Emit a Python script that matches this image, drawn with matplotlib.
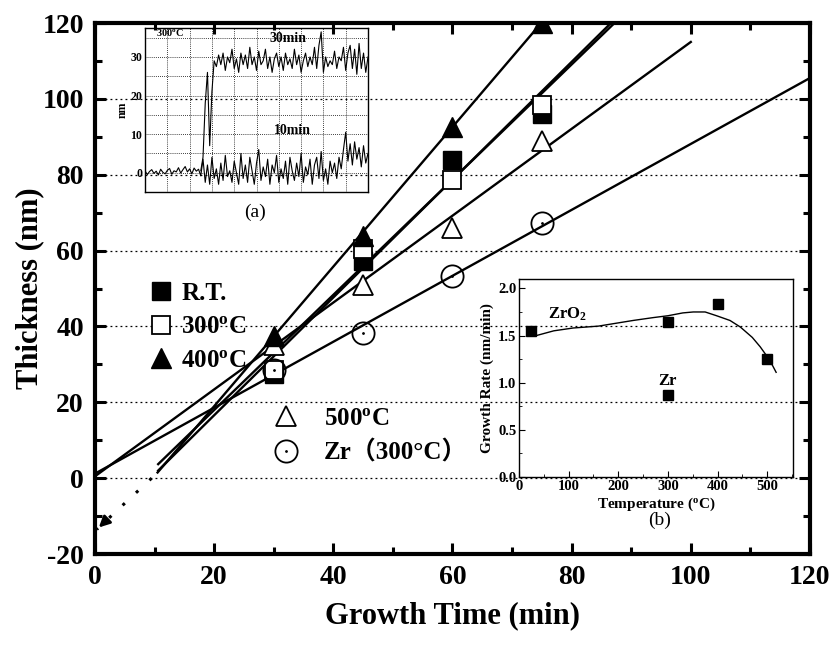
import numpy as np
import matplotlib
matplotlib.use('Agg')
import matplotlib.pyplot as plt
from matplotlib.lines import Line2D
from matplotlib.ticker import MultipleLocator

plt.rcParams['font.family'] = ['Liberation Serif', 'Noto Sans CJK SC']
plt.rcParams['font.weight'] = 'bold'
plt.rcParams['axes.labelweight'] = 'bold'
plt.rcParams['axes.unicode_minus'] = False
plt.rcParams['mathtext.fontset'] = 'custom'
plt.rcParams['mathtext.rm'] = 'Liberation Serif:bold'
plt.rcParams['mathtext.it'] = 'Liberation Serif:bold'
plt.rcParams['mathtext.bf'] = 'Liberation Serif:bold'

# thickness vs growth time (min)
time = [30, 45, 60, 75]
thick_rt = [27.5, 57.2, 84.0, 96.0]
thick_300 = [28.5, 60.3, 78.7, 98.5]
thick_400 = [37.4, 63.8, 92.6, 120.0]
thick_500 = [35.0, 51.0, 66.0, 89.0]
thick_zr = [28.5, 38.3, 53.4, 67.3]

# fitted lines, read as end points
fit_rt_x, fit_rt_y = [10.6, 87.2], [3.7, 120.0]
fit_300_x, fit_300_y = [10.6, 86.6], [2.0, 120.0]
fit_400_x, fit_400_y = [10.5, 74.9], [1.5, 120.0]
fit_500_x, fit_500_y = [0.0, 100.0], [0.5, 115.0]
fit_zr_x, fit_zr_y = [0.0, 120.0], [1.2, 105.5]
extrap_x, extrap_y = [9.5, 0.3], [0.0, -13.5]

# inset (a): thickness monitor traces (nm)
trace_10min = [0.5, -0.5, 0.3, 0.8, -0.2, 0.4, -0.6, 0.9, 0.1, -0.3, 0.6, 1.1, -0.4,
               0.5, 0.2, 1.3, -0.1, 0.8, 1.6, 0.2, 1.0, -0.3, 1.2, 0.4, 0.9, -0.8,
               3.5, -2.5, 2.0, -3.0, 4.0, -1.5, 1.0, -3.0, 2.5, -2.0, 4.5, -1.0, 0.5,
               -2.5, 3.0, 0.0, -3.0, 5.0, -1.5, 2.0, -2.5, 4.0, 0.5, -3.0, 2.5, 6.0,
               -2.0, 1.5, -1.0, 3.5, -3.0, 2.0, 0.0, 4.5, -2.5, 1.0, -1.5, 3.0, -3.0,
               4.0, 0.5, -2.0, 2.5, -1.0, 5.0, -2.5, 1.5, -0.5, 3.5, -3.0, 2.0, 4.0,
               -1.5, 5.5, -2.0, 1.0, -3.0, 3.0, 0.0, 2.5, -1.5, 4.0, 1.0, 6.0, 10.5,
               3.0, 7.5, 2.0, 8.0, 3.5, 6.5, 1.5, 7.0, 2.5, 5.0]
trace_30min = [0.5, 4.0, 18.0, 26.0, 7.0, 21.0, 29.0, 27.5, 30.5, 28.0, 31.0, 26.5,
               30.0, 28.5, 32.0, 27.0, 29.5, 26.0, 31.0, 28.0, 30.5, 27.0, 32.5, 28.0,
               30.0, 26.5, 31.5, 28.0, 29.0, 32.0, 27.0, 30.0, 26.0, 29.5, 31.0, 27.5,
               30.0, 26.5, 31.0, 28.0, 29.5, 27.0, 32.0, 28.0, 30.5, 26.0, 29.0, 31.0,
               27.5, 30.0, 28.0, 32.5, 27.0, 33.0, 36.5, 26.0, 30.0, 27.5, 29.0, 28.0,
               31.5, 27.0, 30.0, 29.0, 32.5, 26.5, 31.0, 33.0, 27.0, 32.0, 25.5, 33.5,
               27.0, 31.0, 26.0, 30.0]

# inset (b): growth rate vs temperature
temp = [25, 300, 400, 500]
rate = [1.55, 1.64, 1.83, 1.25]
zr_temp = [300]
zr_rate = [0.87]
curve_t = [35, 70, 109, 160, 230, 270, 300, 330, 351, 375, 398, 425, 446, 470, 486, 505, 518]
curve_r = [1.50, 1.55, 1.58, 1.60, 1.66, 1.69, 1.71, 1.74, 1.75, 1.75, 1.71, 1.66,
           1.59, 1.48, 1.38, 1.24, 1.11]

fig = plt.figure(figsize=(8.35, 6.48), dpi=100)
ax = fig.add_axes([0.1138, 0.145, 0.8562, 0.8195])

for v in [0, 20, 40, 60, 80, 100]:
    ax.axhline(v, color='k', lw=0.9, linestyle=(0, (1.5, 2.5)), zorder=1)

for fx, fy in [(fit_rt_x, fit_rt_y), (fit_300_x, fit_300_y), (fit_400_x, fit_400_y),
               (fit_500_x, fit_500_y), (fit_zr_x, fit_zr_y)]:
    ax.plot(fx, fy, color='k', lw=1.7, zorder=2)

# extrapolation to the thickness axis
ax.plot(extrap_x, extrap_y, color='k', lw=2.2, linestyle=(0, (1, 5)), zorder=2)
ax.annotate('', xy=(extrap_x[1], extrap_y[1]), xytext=(extrap_x[1] + 1.6, extrap_y[1] + 2.4),
            arrowprops=dict(arrowstyle='-|>', color='k', lw=2, mutation_scale=16))

ms = dict(color='k', linestyle='none', zorder=3)
ax.plot(time, thick_rt, marker='s', markersize=13, mfc='k', **ms)
ax.plot(time, thick_500, marker='^', markersize=15, mfc='white', mew=1.3, **ms)
ax.plot(time, thick_300, marker='s', markersize=13, mfc='white', mew=1.3, **ms)
ax.plot(time, thick_400, marker='^', markersize=15, mfc='k', **ms)
ax.plot(time, thick_zr, marker='o', markersize=16, mfc='none', mew=1.3, **ms)
ax.plot(time, thick_zr, marker='.', markersize=2, **ms)

ax.set_xlim(0, 120)
ax.set_ylim(-20, 120)
ax.xaxis.set_major_locator(MultipleLocator(20))
ax.xaxis.set_minor_locator(MultipleLocator(10))
ax.yaxis.set_major_locator(MultipleLocator(20))
ax.yaxis.set_minor_locator(MultipleLocator(10))
ax.tick_params(which='both', direction='in', top=True, right=True, width=2.2, labelsize=20, pad=8)
ax.tick_params(which='major', length=8)
ax.tick_params(which='minor', length=5)
for s in ax.spines.values():
    s.set_linewidth(3)
ax.set_xlabel('Growth Time (min)', fontsize=22, fontweight='bold', labelpad=8)
ax.set_ylabel('Thickness (nm)', fontsize=22, fontweight='bold', labelpad=-1)

# legends
h1 = [Line2D([], [], marker='s', color='k', mfc='k', ls='none', markersize=13),
      Line2D([], [], marker='s', color='k', mfc='white', mew=1.3, ls='none', markersize=13),
      Line2D([], [], marker='^', color='k', mfc='k', ls='none', markersize=15)]
leg1 = ax.legend(h1, ['R.T.', '300$^{\\mathrm{o}}$C', '400$^{\\mathrm{o}}$C'],
                 loc='upper left', bbox_to_anchor=(0.04, 0.555), frameon=False,
                 fontsize=18, handletextpad=0.2, labelspacing=0.42, handlelength=1.2)
ax.add_artist(leg1)
h2 = [Line2D([], [], marker='^', color='k', mfc='white', mew=1.3, ls='none', markersize=15),
      (Line2D([], [], marker='o', color='k', mfc='none', mew=1.3, ls='none', markersize=16),
       Line2D([], [], marker='.', color='k', ls='none', markersize=2))]
ax.legend(h2, ['500$^{\\mathrm{o}}$C', 'Zr（300°C）'],
          loc='upper left', bbox_to_anchor=(0.215, 0.32), frameon=False,
          fontsize=18, handletextpad=0.9, labelspacing=0.45, handlelength=1.2)

# inset (a)
axa = fig.add_axes([0.1737, 0.7037, 0.267, 0.2531])
axa.patch.set_alpha(0)
xa = np.linspace(0, 10, 101)
axa.plot(xa, trace_10min, color='k', lw=0.8)
axa.plot(xa[25:], trace_30min, color='k', lw=0.8)
axa.set_xlim(0, 10)
axa.set_ylim(-5, 37.5)
axa.set_xticks(np.arange(0, 11, 1))
axa.set_yticks(np.arange(0, 36, 5), minor=True)
axa.set_yticks([0, 10, 20, 30])
axa.tick_params(axis='x', labelbottom=False, length=0)
axa.tick_params(axis='y', which='both', length=0, labelsize=8.5, pad=2)
axa.grid(True, which='both', color='k', lw=0.6, linestyle=(0, (1, 1.5)))
for s in axa.spines.values():
    s.set_linewidth(1)
axa.set_ylabel('nm', fontsize=8.5, labelpad=1)
axa.text(0.5, 35.5, '300$^{\\mathrm{o}}$C', fontsize=7.5)
axa.text(5.6, 34.0, '30min', fontsize=10)
axa.text(5.8, 10.0, '10min', fontsize=10)
fig.text(0.305, 0.672, '(a)', fontsize=14, fontweight='normal', ha='center', va='center')

# inset (b)
axb = fig.add_axes([0.6216, 0.2639, 0.3281, 0.3056])
axb.patch.set_alpha(0)
axb.plot(curve_t, curve_r, color='k', lw=1)
axb.plot(temp, rate, marker='s', color='k', ls='none', markersize=7)
axb.plot(zr_temp, zr_rate, marker='s', color='k', ls='none', markersize=7)
axb.set_xlim(0, 552)
axb.set_ylim(0, 2.1)
axb.xaxis.set_major_locator(MultipleLocator(100))
axb.xaxis.set_minor_locator(MultipleLocator(50))
axb.yaxis.set_major_locator(MultipleLocator(0.5))
axb.yaxis.set_minor_locator(MultipleLocator(0.25))
axb.tick_params(which='both', direction='in', labelsize=10.5, pad=2)
axb.tick_params(which='major', length=4)
axb.tick_params(which='minor', length=2)
for s in axb.spines.values():
    s.set_linewidth(1)
axb.set_xlabel('Temperature ($^{\\mathrm{o}}$C)', fontsize=11, fontweight='bold', labelpad=2)
axb.set_ylabel('Growth Rate (nm/min)', fontsize=11, fontweight='bold', labelpad=3)
axb.text(58, 1.68, 'ZrO$_2$', fontsize=12)
axb.text(280, 0.98, 'Zr', fontsize=12)
fig.text(0.79, 0.197, '(b)', fontsize=14, fontweight='normal', ha='center', va='center')

fig.savefig('out.png', dpi=100)
